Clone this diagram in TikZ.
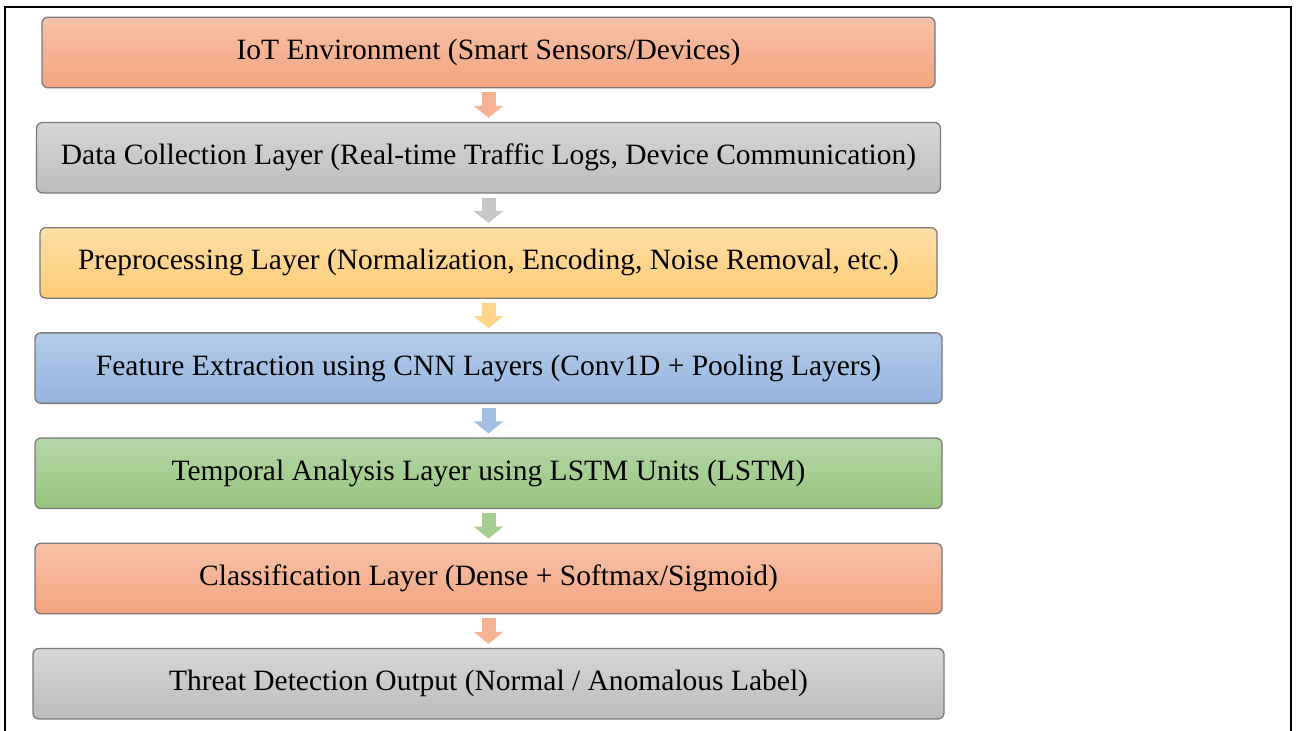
\documentclass[tikz,border=0pt]{standalone}
\usepackage{fontspec}
\setmainfont{Liberation Serif}
\usepackage{xcolor}
\usetikzlibrary{positioning,arrows.meta}
\definecolor{orgtop}{HTML}{F7C2A8}
\definecolor{orgbot}{HTML}{F4A47F}
\definecolor{grytop}{HTML}{D6D6D6}
\definecolor{grybot}{HTML}{BDBDBD}
\definecolor{ylwtop}{HTML}{FFDEA6}
\definecolor{ylwbot}{HTML}{FFCD76}
\definecolor{blutop}{HTML}{B4CCEA}
\definecolor{blubot}{HTML}{93B4DF}
\definecolor{grntop}{HTML}{B5D7A6}
\definecolor{grnbot}{HTML}{97C57E}
\definecolor{edge}{HTML}{7A7A7A}

\begin{document}
\begin{tikzpicture}[
  x=1pt, y=-1pt,
  font=\fontsize{29.5}{33}\selectfont,
  layer/.style={
    draw=edge, line width=1.3pt, rounded corners=6pt,
    minimum height=70.5pt, inner sep=2pt, align=center,
    top color=#1top, bottom color=#1bot
  },
  down/.style={
    draw=#1, line width=14pt, shorten <=4pt, shorten >=4pt,
    -{Triangle[width=29pt,length=12pt]}
  },
  node distance=33.4pt,
]
\useasboundingbox (0,0) rectangle (1296,731);

% open frame round the flow
\draw[line width=2.5pt] (5,731) -- (5,7) -- (1291,7) -- (1291,731);

% ---------------- layers, top to bottom
\node[layer=org, minimum width=893pt] (iot) at (488.5,52.5)
  {IoT Environment (Smart Sensors/Devices)};
\node[layer=gry, minimum width=904pt, below=of iot] (collect)
  {Data Collection Layer (Real-time Traffic Logs, Device Communication)};
\node[layer=ylw, minimum width=897pt, below=of collect] (prep)
  {Preprocessing Layer (Normalization, Encoding, Noise Removal, etc.)};
\node[layer=blu, minimum width=907pt, below=of prep] (feat)
  {Feature Extraction using CNN Layers (Conv1D + Pooling Layers)};
\node[layer=grn, minimum width=907pt, below=of feat] (lstm)
  {Temporal Analysis Layer using LSTM Units (LSTM)};
\node[layer=org, minimum width=907pt, below=of lstm] (cls)
  {Classification Layer (Dense + Softmax/Sigmoid)};
\node[layer=gry, minimum width=911pt, below=of cls] (out)
  {Threat Detection Output (Normal / Anomalous Label)};

% ---------------- block arrows, coloured after the layer above
\foreach \i/\j/\c in {iot/collect/orgbot, collect/prep/grybot, prep/feat/ylwbot,
  feat/lstm/blubot, lstm/cls/grnbot, cls/out/orgbot}
  \draw[down=\c!85!white] (\i) -- (\j);

\end{tikzpicture}
\end{document}
